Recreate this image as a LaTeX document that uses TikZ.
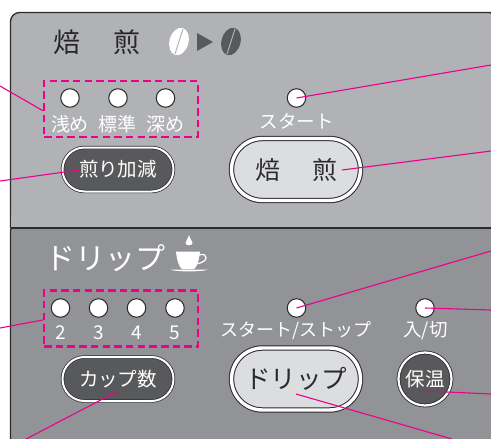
\documentclass[tikz,border=0pt]{standalone}
\usepackage{fontspec}
\setmainfont{Noto Sans CJK JP}
\usetikzlibrary{shapes.misc}
\definecolor{panelroast}{HTML}{B1B2B6}
\definecolor{paneldrip}{HTML}{929396}
\definecolor{btndark}{HTML}{58595B}
\definecolor{btnlight}{HTML}{DCDDDF}
\definecolor{edgedark}{HTML}{2B2B2D}
\definecolor{leader}{HTML}{EC008C}
\newcommand{\px}[1]{\fontsize{#1}{#1}\selectfont}
\tikzset{
	lamp/.style={circle,draw=edgedark,fill=white,line width=1pt,minimum size=18.5pt,inner sep=0pt},
	caption/.style={text=white,inner sep=0pt,font=\px{19}},
	bigbtn/.style={rounded rectangle,draw=edgedark,double=white,double distance=3.4pt,line width=1pt,fill=btnlight,
		minimum width=129pt,minimum height=62pt,inner sep=0pt,text=edgedark},
	darkbtn/.style={rounded rectangle,draw=edgedark,double=white,double distance=2pt,line width=0.7pt,fill=btndark,
		minimum width=111pt,minimum height=44pt,inner sep=0pt,text=white,font=\px{19.5}},
	groupbox/.style={draw=leader,line width=2.3pt,dash pattern=on 7.5pt off 4.2pt,inner sep=0pt},
	leadline/.style={draw=leader,line width=1.1pt},
	frame/.style={draw=edgedark,line width=1.3pt}
}
\begin{document}
\begin{tikzpicture}[x=1pt,y=-1pt]
	\useasboundingbox (0,0) rectangle (491,439);
	\path
	(0,86) coordinate (E1)
	(0,181) coordinate (E2)
	(491,65) coordinate (E3)
	(491,151) coordinate (E4)
	(491,251) coordinate (E5)
	(491,310) coordinate (E6)
	(491,394) coordinate (E7)
	(452,439) coordinate (E8)
	(26,439) coordinate (E9)
	(0,328) coordinate (E10);

	% panels
	\begin{scope}
	\clip (0,0) rectangle (491,439);
	\draw[frame,fill=paneldrip,rounded corners=9pt]
	(10.5,222)--(10.5,447.5)--(500,447.5)--(500,222)--cycle;
	\draw[frame,fill=panelroast,rounded corners=9pt]
	(10.5,228)--(10.5,12.5)--(490,12.5)--(498,12.5)--(498,228);
	\fill[panelroast] (11.2,215) rectangle (491,227.6);
	\draw[edgedark,line width=1.3pt] (10.5,228)--(491,228);
	\end{scope}

	% roast section
	\node[text=black!85,inner sep=0pt,font=\px{27}] (titleroast) at (97,42) {焙\hspace{34pt}煎};
	\node[groupbox,minimum width=154pt,minimum height=56pt] (boxroast) at (121,109) {};
	\node[lamp] (lampA) at (70,98) {};
	\node[lamp] (lampB) at (118,98) {};
	\node[lamp] (lampC) at (165.5,98) {};
	\node[caption] (capA) at (70,124) {浅め};
	\node[caption] (capB) at (118,124) {標準};
	\node[caption] (capC) at (165.5,124) {深め};
	\node[darkbtn] (btnadjust) at (118,169.5) {煎り加減};
	\node[lamp] (lampstart) at (296.5,98) {};
	\node[caption,font=\px{18.5}] (capstart) at (296.5,121) {スタート};
	\node[bigbtn,font=\px{25}] (btnroast) at (296,169.5) {焙\hspace{32pt}煎};

	% beans
	\fill[white,rotate around={-15:(179,41.5)}] (179,41.5) ellipse (9.5 and 14);
	\draw[panelroast,line width=1pt] (183,29)--(175,54);
	\fill[btndark] (197,33)--(213,42)--(197,51)--cycle;
	\fill[btndark,rotate around={-15:(231,41.5)}] (231,41.5) ellipse (9.5 and 14);
	\draw[panelroast,line width=1pt] (235,29)--(227,54);

	% drip section
	\node[text=white,inner sep=0pt,font=\px{30}] (titledrip) at (105.5,258) {ドリップ};
	\fill[white] (189,235)..controls (190,239) and (192.5,241) .. (192.5,243)
	..controls (192.5,246) and (185.5,246) .. (185.5,243)
	..controls (185.5,241) and (188,239) .. (189,235)--cycle;
	\fill[white] (176,251.5)--(200,251.5)..controls (199,261) and (197,267) .. (194,269)
	--(182,269)..controls (179,267) and (177,261) .. (176,251.5)--cycle;
	\draw[white,line width=1.2pt] (199,255)..controls (208,252) and (210,262) .. (196,264);
	\fill[white] (170,269.5)--(208,269.5)..controls (204,272) and (174,272) .. (170,269.5)--cycle;

	\node[groupbox,minimum width=154pt,minimum height=56pt] (boxdrip) at (121,318.5) {};
	\node[lamp] (lamp2) at (60.5,308) {};
	\node[lamp] (lamp3) at (98.5,308) {};
	\node[lamp] (lamp4) at (136.5,308) {};
	\node[lamp] (lamp5) at (175,308) {};
	\node[caption] (cap2) at (60.5,332.5) {2};
	\node[caption] (cap3) at (98.5,332.5) {3};
	\node[caption] (cap4) at (136.5,332.5) {4};
	\node[caption] (cap5) at (175,332.5) {5};
	\node[darkbtn] (btncups) at (118,379) {カップ数};
	\node[lamp] (lampdrip) at (296.5,308) {};
	\node[caption,font=\px{18}] (capdrip) at (296,331) {スタート/ストップ};
	\node[bigbtn,font=\px{25.5}] (btndrip) at (296,379) {ドリップ};
	\node[lamp] (lampkeep) at (425,308) {};
	\node[caption,font=\px{18.5}] (capkeep) at (425.5,331) {入/切};
	\node[circle,draw=edgedark,double=white,double distance=2.2pt,line width=0.8pt,fill=btndark,minimum size=53pt,
		inner sep=0pt,text=white,font=\px{19.5}] (btnkeep) at (425,379) {保温};

	% leaders
	\draw[leadline] (E1)--(boxroast.west |- 0,110.7);
	\draw[leadline] (E2)--(79,170) coordinate (btnadjustend);
	\draw[leadline] (lampstart.center)--(E3);
	\draw[leadline] (342,170) coordinate (btnroastend)--(E4);
	\draw[leadline] (lampdrip.center)--(E5);
	\draw[leadline] (lampkeep.center)--(E6);
	\draw[leadline] (425,391) coordinate (btnkeepend)--(E7);
	\draw[leadline] (296,394) coordinate (btndripend)--(E8);
	\draw[leadline] (118,391) coordinate (btncupsend)--(E9);
	\draw[leadline] (E10)--(boxdrip.west |- 0,320);
\end{tikzpicture}
\end{document}
